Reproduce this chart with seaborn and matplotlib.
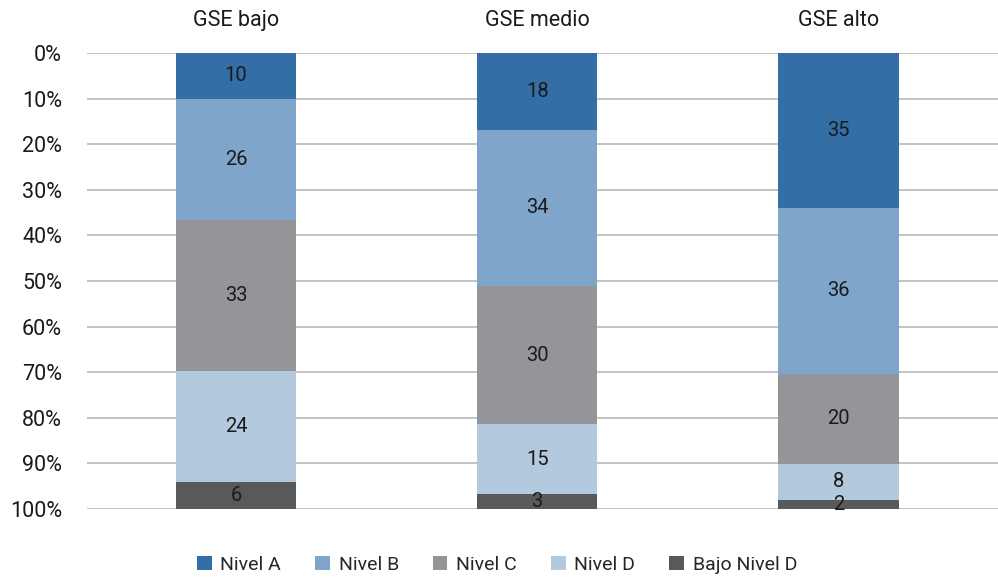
import matplotlib
matplotlib.use("Agg")
import matplotlib.pyplot as plt
import seaborn as sns
import numpy as np
import pandas as pd
from matplotlib.patches import Patch

groups = ["GSE bajo", "GSE medio", "GSE alto"]
levels = ["Nivel A", "Nivel B", "Nivel C", "Nivel D", "Bajo Nivel D"]
# segment shares (%) as drawn
nivel_a = [10.0, 16.8, 33.9]
nivel_b = [26.6, 34.3, 36.4]
nivel_c = [33.1, 30.3, 19.8]
nivel_d = [24.4, 15.3, 7.9]
bajo_d = [5.9, 3.3, 2.0]
# labels shown on segments
label_a = ["10", "18", "35"]
label_b = ["26", "34", "36"]
label_c = ["33", "30", "20"]
label_d = ["24", "15", "8"]
label_e = ["6", "3", "2"]
colors = ["#336EA6", "#7FA5CA", "#939598", "#B3C9DE", "#58595B"]
yticklabels = ["0%", "10%", "20%", "30%", "40%", "50%", "60%", "70%", "80%", "90%", "100%"]

sns.set_theme(style="white")
plt.rcParams["font.family"] = ["Roboto", "DejaVu Sans"]

vals = np.array([nivel_a, nivel_b, nivel_c, nivel_d, bajo_d], dtype=float)
pct = vals / vals.sum(axis=0) * 100
cum = np.cumsum(pct, axis=0)
labels = [label_a, label_b, label_c, label_d, label_e]

fig = plt.figure(figsize=(9.98, 5.8), dpi=100)
ax = fig.add_axes([87 / 998, 1 - 509 / 580, (998 - 87) / 998, (509 - 53) / 580])

for gy in range(0, 101, 10):
    ax.axhline(gy, color="#BEBEBE", lw=1.3, zorder=0)

# overlay cumulative bars, largest first
for i in range(len(levels) - 1, -1, -1):
    df = pd.DataFrame({"grupo": groups, "valor": cum[i]})
    sns.barplot(data=df, x="grupo", y="valor", color=colors[i], width=0.4,
                ax=ax, saturation=1, zorder=2, order=groups,
                edgecolor="none", linewidth=0)

for j in range(len(groups)):
    for i in range(len(levels)):
        start = cum[i - 1][j] if i > 0 else 0
        mid = start + pct[i][j] / 2
        ax.text(j, mid, labels[i][j], ha="center", va="center",
                fontsize=14.5, color="#1a1a1a", zorder=5)

ax.set_ylim(100, 0)
ax.set_xlim(-0.495, 2.53)
ax.set_yticks(range(0, 101, 10))
ax.set_yticklabels(yticklabels, fontsize=15.5, color="#1a1a1a")
ax.xaxis.tick_top()
ax.set_xticks(range(len(groups)))
ax.set_xticklabels(groups, fontsize=15.5, color="#1a1a1a")
ax.tick_params(axis="both", length=0)
ax.tick_params(axis="y", pad=18)
ax.tick_params(axis="x", pad=16)
ax.set_xlabel("")
ax.set_ylabel("")
for s in ax.spines.values():
    s.set_visible(False)

handles = [Patch(facecolor=c, edgecolor="none", label=l) for c, l in zip(colors, levels)]
fig.legend(handles=handles, loc="center", bbox_to_anchor=(0.498, 1 - 565 / 580),
           ncol=5, frameon=False, fontsize=14, handlelength=0.75, handleheight=0.75,
           handletextpad=0.45, columnspacing=1.75)

fig.savefig("out.png", dpi=100)
